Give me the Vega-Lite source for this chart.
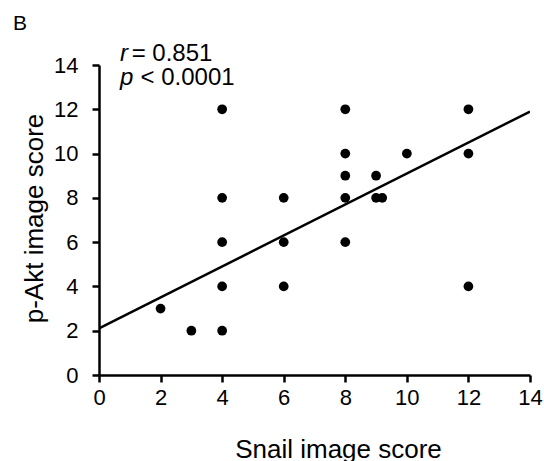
{
  "$schema": "https://vega.github.io/schema/vega-lite/v6.json",
  "autosize": "none",
  "width": 431,
  "height": 310,
  "padding": {"left": 99, "top": 65, "right": 14, "bottom": 86},
  "background": "white",
  "config": {
    "view": {"stroke": null},
    "font": "Liberation Sans",
    "axis": {"grid": false, "domainColor": "black", "domainWidth": 2.5, "tickColor": "black", "tickWidth": 2.5, "tickSize": 7, "labelColor": "black", "labelFont": "Liberation Sans", "labelFontSize": 22, "labelFlush": false, "titleFont": "Liberation Sans", "titleFontSize": 26, "titleFontWeight": "normal", "titleColor": "black"}
  },
  "datasets": {
    "points": [
      {"snail": 2, "pakt": 3}, {"snail": 3, "pakt": 2},
      {"snail": 4, "pakt": 12}, {"snail": 4, "pakt": 8}, {"snail": 4, "pakt": 6}, {"snail": 4, "pakt": 4}, {"snail": 4, "pakt": 2},
      {"snail": 6, "pakt": 8}, {"snail": 6, "pakt": 6}, {"snail": 6, "pakt": 4},
      {"snail": 8, "pakt": 12}, {"snail": 8, "pakt": 10}, {"snail": 8, "pakt": 9}, {"snail": 8, "pakt": 8}, {"snail": 8, "pakt": 6},
      {"snail": 9, "pakt": 9}, {"snail": 9, "pakt": 8}, {"snail": 9.2, "pakt": 8},
      {"snail": 10, "pakt": 10},
      {"snail": 12, "pakt": 12}, {"snail": 12, "pakt": 10}, {"snail": 12, "pakt": 4}
    ],
    "fit": [{"snail": 0, "pakt": 2.1}, {"snail": 14, "pakt": 11.9}]
  },
  "layer": [
    {
      "data": {"name": "fit"},
      "mark": {"type": "line", "color": "black", "strokeWidth": 2.5, "clip": true},
      "encoding": {
        "x": {"field": "snail", "type": "quantitative", "scale": {"domain": [0, 14], "nice": false}, "axis": {"values": [0, 2, 4, 6, 8, 10, 12, 14], "title": "Snail image score", "labelFontSize": 22, "labelFlush": false, "labelPadding": 5, "titleX": 239, "titleY": 82, "titleBaseline": "alphabetic", "titleAlign": "center"}},
        "y": {"field": "pakt", "type": "quantitative", "scale": {"domain": [0, 14], "nice": false}, "axis": {"values": [0, 2, 4, 6, 8, 10, 12, 14], "title": "p-Akt image score", "labelFontSize": 22, "labelPadding": 14, "titleX": -57, "titleY": 153, "titleBaseline": "alphabetic", "titleAlign": "center", "titleAngle": -90}}
      }
    },
    {
      "data": {"name": "points"},
      "mark": {"type": "circle", "color": "black", "opacity": 1, "size": 95},
      "encoding": {
        "x": {"field": "snail", "type": "quantitative"},
        "y": {"field": "pakt", "type": "quantitative"}
      }
    },
    {
      "data": {"values": [{"label": "r", "x": 0.68, "y": 14.18}, {"label": "p", "x": 0.68, "y": 13.1}]},
      "mark": {"type": "text", "align": "left", "baseline": "alphabetic", "fontSize": 24, "fontStyle": "italic", "color": "black", "font": "Liberation Sans", "clip": false},
      "encoding": {
        "x": {"field": "x", "type": "quantitative"},
        "y": {"field": "y", "type": "quantitative"},
        "text": {"field": "label"}
      }
    },
    {
      "data": {"values": [{"label": "= 0.851", "x": 1.06, "y": 14.18}, {"label": "< 0.0001", "x": 1.35, "y": 13.1}]},
      "mark": {"type": "text", "align": "left", "baseline": "alphabetic", "fontSize": 24, "color": "black", "font": "Liberation Sans", "clip": false},
      "encoding": {
        "x": {"field": "x", "type": "quantitative"},
        "y": {"field": "y", "type": "quantitative"},
        "text": {"field": "label"}
      }
    },
    {
      "data": {"values": [{"label": "B", "x": -2.79, "y": 15.58}]},
      "mark": {"type": "text", "align": "left", "baseline": "alphabetic", "fontSize": 21, "color": "black", "font": "Liberation Sans", "clip": false},
      "encoding": {
        "x": {"field": "x", "type": "quantitative"},
        "y": {"field": "y", "type": "quantitative"},
        "text": {"field": "label"}
      }
    }
  ]
}
